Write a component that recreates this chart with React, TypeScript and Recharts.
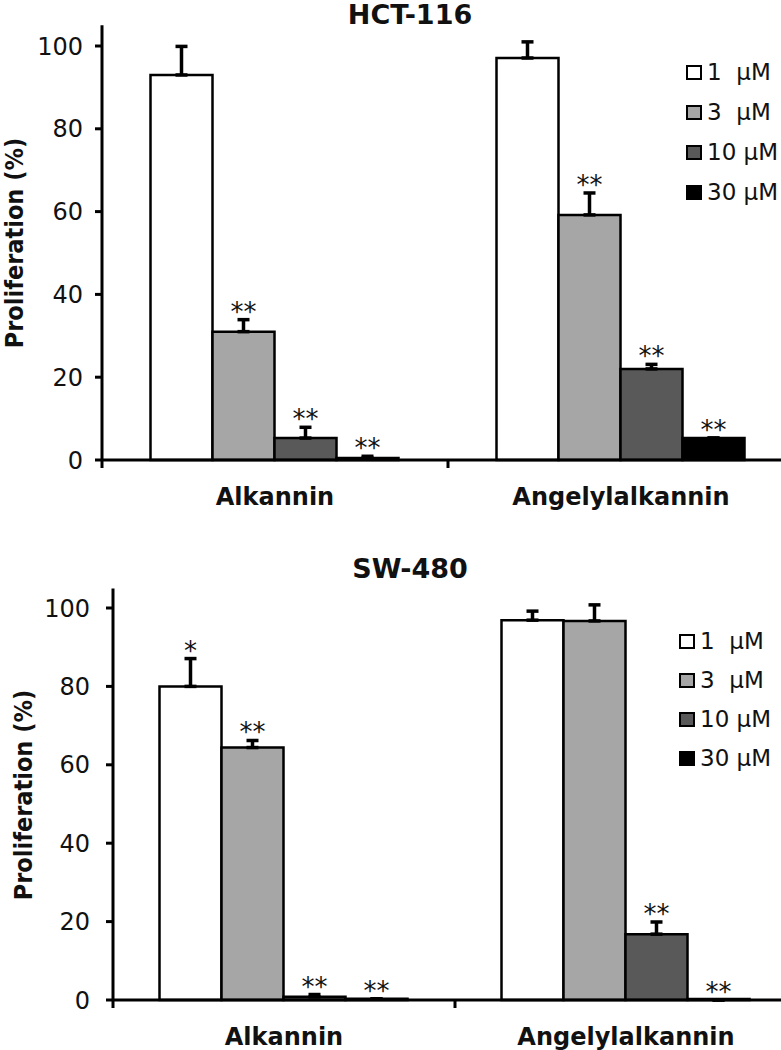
import React from 'react';
import { BarChart, Bar, XAxis, YAxis, ErrorBar, LabelList, Legend } from 'recharts';

// ---------- data ----------
const categories = ['Alkannin', 'Angelylalkannin'];
const seriesNames = ['1  µM', '3  µM', '10 µM', '30 µM'];
const yTicks = [0, 20, 40, 60, 80, 100];

// HCT-116
const hct1 = [93, 97.1];
const hct3 = [31, 59.2];
const hct10 = [5.3, 22];
const hct30 = [0.5, 5.3];
const hct1Err = [6.9, 3.9];
const hct3Err = [2.9, 5.3];
const hct10Err = [2.6, 1.1];
const hct30Err = [0.4, 0];
const hct1Sig = ['', ''];
const hct3Sig = ['**', '**'];
const hct10Sig = ['**', '**'];
const hct30Sig = ['**', '**'];

// SW-480
const sw1 = [80, 96.9];
const sw3 = [64.4, 96.7];
const sw10 = [0.8, 16.8];
const sw30 = [0.3, 0];
const sw1Err = [7.1, 2.3];
const sw3Err = [1.8, 4.1];
const sw10Err = [0.6, 3.1];
const sw30Err = [0, 0];
const sw1Sig = ['*', ''];
const sw3Sig = ['**', ''];
const sw10Sig = ['**', '**'];
const sw30Sig = ['**', '**'];

// ---------- styles ----------
const FONT = '"DejaVu Sans", "Liberation Sans", sans-serif';
const COLORS = ['#ffffff', '#a6a6a6', '#595959', '#000000'];
const TEXT = '#111111';
const KEYS = ['v1', 'v3', 'v10', 'v30'];

function buildRows(vals: number[][], errs: number[][], sigs: string[][]) {
  return categories.map((c, i) => {
    const row: any = { name: c };
    KEYS.forEach((k, s) => {
      row[k] = vals[s][i];
      row['e' + k] = [0, errs[s][i]];
      row['s' + k] = sigs[s][i];
    });
    return row;
  });
}

const hctRows = buildRows(
  [hct1, hct3, hct10, hct30],
  [hct1Err, hct3Err, hct10Err, hct30Err],
  [hct1Sig, hct3Sig, hct10Sig, hct30Sig]
);
const swRows = buildRows(
  [sw1, sw3, sw10, sw30],
  [sw1Err, sw3Err, sw10Err, sw30Err],
  [sw1Sig, sw3Sig, sw10Sig, sw30Sig]
);

type Layout = {
  top: number;
  height: number;
  left: number;
  right: number;
  plotTop: number;
  plotBottom: number;
  catGap: number;
  tickMargin: number;
  titleBaseline: number;
  ylabelX: number;
  ylabelY: number;
  legendLeft: number;
  legendTop: number;
  legendRow: number;
};

const WIDTH = 800;

function Panel({ title, rows, L }: { title: string; rows: any[]; L: Layout }) {
  const plotLeft = L.left + 60;
  const plotRight = WIDTH - L.right;
  const band = (plotRight - plotLeft) / categories.length;
  const ppu = (L.plotBottom - L.plotTop) / 105;

  const XTick = (props: any) => {
    const { x, payload } = props;
    const cx = x;
    return (
      <g>
        <line x1={cx - band / 2} x2={cx - band / 2} y1={L.plotBottom} y2={L.plotBottom + 8} stroke="#000" strokeWidth={3} />
        <text x={cx} y={L.plotBottom + 45} textAnchor="middle" fontFamily={FONT} fontWeight="bold" fontSize={24} fill={TEXT}>
          {payload.value}
        </text>
      </g>
    );
  };

  const makeStar = (key: string) => (props: any) => {
    const vb = props.viewBox || {};
    const x = props.x ?? vb.x;
    const w = props.width ?? vb.width;
    const value = props.value;
    const index = props.index;
    if (!value || index == null) return null;
    const v = rows[index][key];
    const err = rows[index]['e' + key][1];
    const errTop = L.plotBottom - (v + err) * ppu;
    return (
      <text x={x + w / 2} y={errTop + 1} textAnchor="middle" fontSize={26} fontFamily={FONT} fill={TEXT}>
        {value}
      </text>
    );
  };

  const legendContent = () => (
    <div style={{ fontFamily: FONT, fontSize: 23, color: TEXT }}>
      {seriesNames.map((n, i) => (
        <div key={n} style={{ height: L.legendRow, display: 'flex', alignItems: 'center' }}>
          <div
            style={{
              width: 16,
              height: 15,
              boxSizing: 'border-box',
              background: COLORS[i],
              border: '2.5px solid #000',
              marginRight: 5,
            }}
          />
          <span style={{ whiteSpace: 'pre', lineHeight: 1 }}>{n}</span>
        </div>
      ))}
    </div>
  );

  return (
    <div style={{ position: 'absolute', left: 0, top: L.top, width: WIDTH, height: L.height }}>
      <svg width={WIDTH} height={90} style={{ position: 'absolute', left: 0, top: 0 }}>
        <text x={410} y={L.titleBaseline} textAnchor="middle" fontFamily={FONT} fontWeight="bold" fontSize={27} fill={TEXT}>
          {title}
        </text>
      </svg>
      <div style={{ position: 'absolute', left: 0, top: 0 }}>
        <BarChart
          width={WIDTH}
          height={L.height}
          data={rows}
          margin={{ top: L.plotTop, right: L.right, bottom: L.height - L.plotBottom - 40, left: L.left }}
          barCategoryGap={L.catGap}
          barGap={0}
        >
          <XAxis
            dataKey="name"
            height={40}
            tickLine={false}
            axisLine={{ stroke: '#000', strokeWidth: 3 }}
            tick={XTick}
            interval={0}
          />
          <YAxis
            width={60}
            domain={[0, 105]}
            ticks={yTicks}
            interval={0}
            tickSize={7}
            tickMargin={L.tickMargin}
            axisLine={{ stroke: '#000', strokeWidth: 3 }}
            tickLine={{ stroke: '#000', strokeWidth: 3 }}
            tick={{ fontSize: 24, fontFamily: FONT, fill: TEXT }}
            label={() => (
              <text
                x={0}
                y={0}
                transform={`translate(${L.ylabelX}, ${L.ylabelY}) rotate(-90) scale(1, 1.1)`}
                textAnchor="middle"
                fontFamily={FONT}
                fontWeight="bold"
                fontSize={22.5}
                fill={TEXT}
              >
                Proliferation (%)
              </text>
            )}
          />
          <Legend
            layout="vertical"
            align="center"
            verticalAlign="middle"
            content={legendContent}
            wrapperStyle={{ position: 'absolute', left: L.legendLeft, top: L.legendTop, width: 'auto', height: 'auto' }}
          />
          {KEYS.map((k, i) => (
            <Bar
              key={k}
              dataKey={k}
              name={seriesNames[i]}
              fill={COLORS[i]}
              stroke="#000"
              strokeWidth={2.5}
              minPointSize={1}
              isAnimationActive={false}
            >
              <ErrorBar dataKey={'e' + k} direction="y" width={6} stroke="#000" strokeWidth={3.5} />
              <LabelList dataKey={'s' + k} content={makeStar(k)} />
            </Bar>
          ))}
        </BarChart>
      </div>
    </div>
  );
}

const topLayout: Layout = {
  top: 0,
  height: 515,
  left: 42,
  right: 6,
  plotTop: 25.3,
  plotBottom: 460,
  catGap: 48.5,
  tickMargin: 12,
  titleBaseline: 24,
  ylabelX: 23,
  ylabelY: 243,
  legendLeft: 686,
  legendTop: 52,
  legendRow: 40,
};

const bottomLayout: Layout = {
  top: 515,
  height: 535,
  left: 53,
  right: 3,
  plotTop: 73.4,
  plotBottom: 485,
  catGap: 46.5,
  tickMargin: 16,
  titleBaseline: 63,
  ylabelX: 32,
  ylabelY: 280,
  legendLeft: 679,
  legendTop: 107.6,
  legendRow: 38.7,
};

export default function App() {
  return (
    <div style={{ position: 'absolute', left: 0, top: 0, width: 781, height: 1050, overflow: 'hidden', background: '#fff' }}>
      <Panel title="HCT-116" rows={hctRows} L={topLayout} />
      <Panel title="SW-480" rows={swRows} L={bottomLayout} />
    </div>
  );
}
